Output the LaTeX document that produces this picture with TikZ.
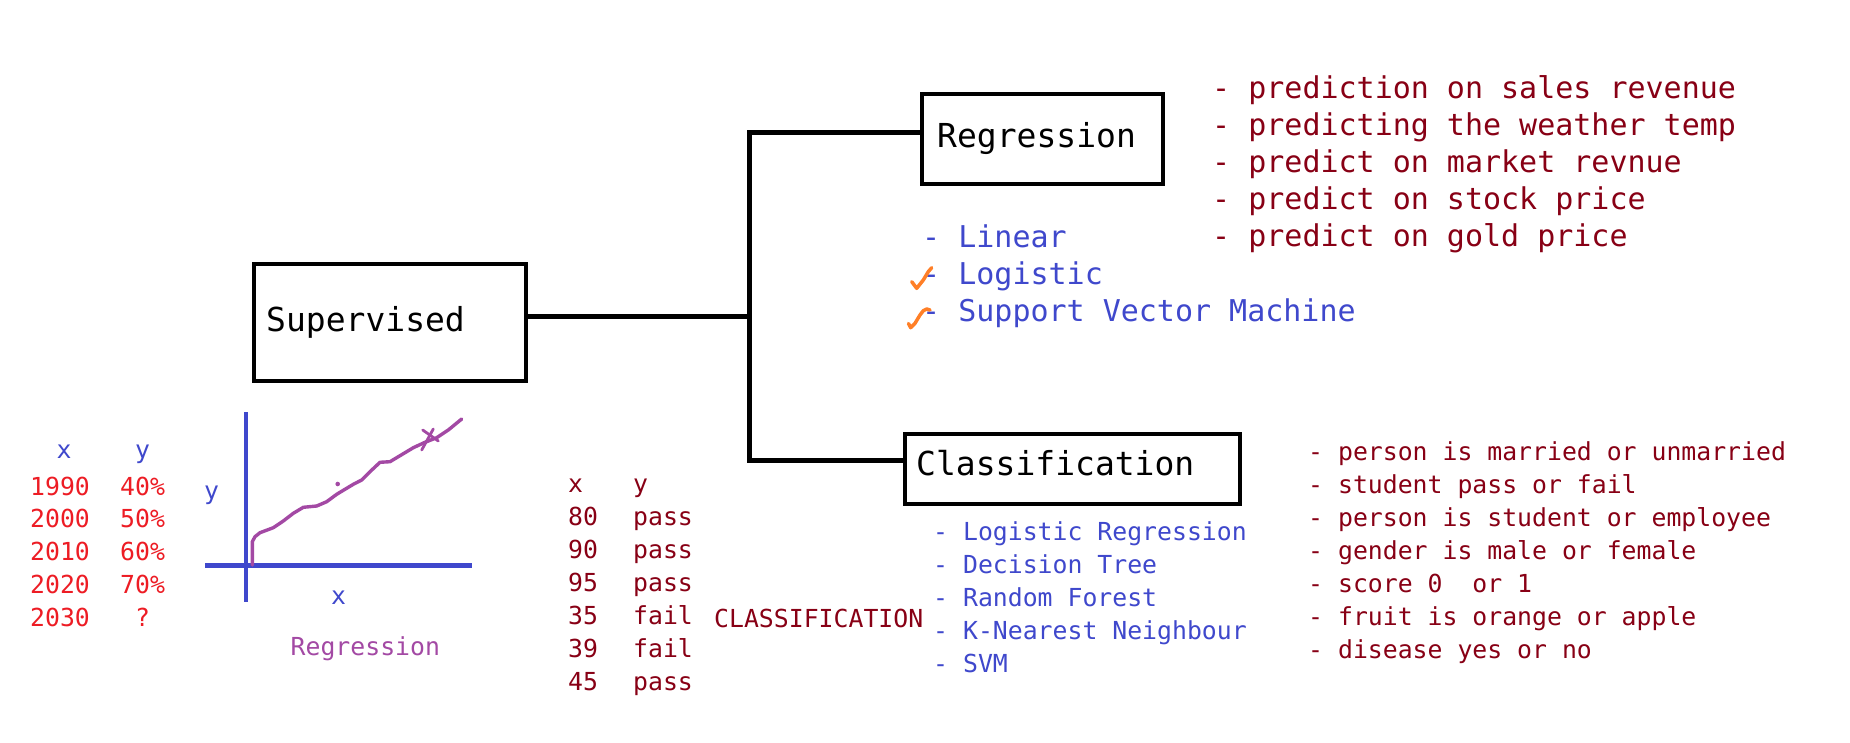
\documentclass[tikz,border=0pt]{standalone}
\usepackage{fontspec}
\newfontfamily\monofam{DejaVu Sans Mono}
\definecolor{pblue}{RGB}{63,72,204}
\definecolor{pred}{RGB}{237,28,36}
\definecolor{pdred}{RGB}{136,0,21}
\definecolor{ppurple}{RGB}{163,73,164}
\definecolor{porange}{RGB}{255,127,39}
\begin{document}
\begin{tikzpicture}[x=1pt,y=-1pt,
  box/.style={draw=black,line width=4.5pt,inner sep=0pt},
  conn/.style={draw=black,line width=5pt},
  tl/.style={font=\monofam\fontsize{33}{40}\selectfont,inner sep=0pt,anchor=base west},
  tm/.style={font=\monofam\fontsize{30}{37}\selectfont,inner sep=0pt,anchor=base west},
  ts/.style={font=\monofam\fontsize{24.8}{33}\selectfont,inner sep=0pt,anchor=base west},
  axisline/.style={draw=pblue,line width=4.5pt},
  pen/.style={draw=ppurple,line width=3.4pt,line cap=round,line join=round},
  tickmark/.style={draw=porange,line width=3.5pt,line cap=round,line join=round}]
\useasboundingbox[fill=white] (0,0) rectangle (1850,743);

% boxes
\node[box,minimum width=272pt,minimum height=117pt] (sup) at (390,322.5) {};
\node[box,minimum width=241pt,minimum height=90pt] (reg) at (1042.5,139) {};
\node[box,minimum width=335pt,minimum height=70pt] (cls) at (1072.5,469) {};
\node[tl] (supT) at (266,331) {Supervised};
\node[tl] (regT) at (937,148) {Regression};
\node[tl] (clsT) at (916,475) {Classification};

% connectors
\coordinate (J) at (749.5,317);
\coordinate (T) at (749.5,133);
\coordinate (B) at (749.5,460);
\draw[conn] (sup.east |- J) -- (J);
\draw[conn] (reg.west |- T) -- (T) -- (B) -- (cls.west |- B);

% regression examples
\foreach \t [count=\i from 0] in {prediction on sales revenue,predicting the weather temp,predict on market revnue,predict on stock price,predict on gold price}
  \node[tm,pdred] (rx\i) at (1212,{98.5+37*\i}) {- \t};
\foreach \t [count=\i from 0] in {Linear,Logistic,Support Vector Machine}
  \node[tm,pblue] (ra\i) at (922,{247.5+37*\i}) {- \t};
\draw[tickmark] (911.7,281.7) -- (916.7,288.3) -- (923.3,280) -- (928.3,271.7) -- (931.7,267.7);
\draw[tickmark] (908.5,323.5) -- (910.7,327.7) -- (915,323.3) -- (920,315) -- (923.3,310.7) -- (926.7,309) -- (930,310);

% classification algorithms and examples
\foreach \t [count=\i from 0] in {Logistic Regression,Decision Tree,Random Forest,K-Nearest Neighbour,SVM}
  \node[ts,pblue] (ca\i) at (933,{540+33.2*\i}) {- \t};
\foreach \t [count=\i from 0] in {person is married or unmarried,student pass or fail,person is student or employee,gender is male or female,score 0\ \ or 1,fruit is orange or apple,disease yes or no}
  \node[ts,pdred] (cx\i) at (1308,{460+33*\i}) {- \t};

% middle table
\node[ts,pdred] (mx) at (568,492) {x};
\node[ts,pdred] (my) at (633,492) {y};
\foreach \a/\b [count=\i from 0] in {80/pass,90/pass,95/pass,35/fail,39/fail,45/pass}{
  \node[ts,pdred] (ma\i) at (568,{525+33*\i}) {\a};
  \node[ts,pdred] (mb\i) at (633,{525+33*\i}) {\b};
}
\node[ts,pdred] (clsword) at (714,627) {CLASSIFICATION};

% left table
\node[ts,pblue] (lx) at (56.5,458) {x};
\node[ts,pblue] (ly) at (135,458) {y};
\foreach \a/\b [count=\i from 0] in {1990/40\%,2000/50\%,2010/60\%,2020/70\%}{
  \node[ts,pred] (la\i) at (30,{495+32.8*\i}) {\a};
  \node[ts,pred] (lb\i) at (120,{495+32.8*\i}) {\b};
}
\node[ts,pred] (la4) at (30,626) {2030};
\node[ts,pred] (lb4) at (135,626) {?};

% regression graph
\draw[axisline] (246,412) -- (246,602);
\draw[axisline] (205,565.3) -- (472,565.3);
\node[ts,pblue] (gy) at (204,499) {y};
\node[ts,pblue] (gx) at (331,604) {x};
\node[ts,ppurple] (gr) at (290.5,655) {Regression};
\draw[pen] (252.3,565) -- (252.3,541.7) -- (255,536.7) -- (260,532.7) -- (273.3,527.7) -- (283.3,521) -- (293.3,513.3) -- (303.3,507.3) -- (316.7,506) -- (326.7,501.7) -- (336.7,494.3) -- (353.3,484.3) -- (361.7,480) -- (370,471.7) -- (380,462.3) -- (390,461.7) -- (400,455.7) -- (413.3,447.7) -- (425,442.3) -- (436.7,437.7) -- (448.3,430) -- (461.7,419);
\fill[ppurple] (337.7,484) circle (2.3pt);
\draw[pen,line width=2.8pt] (422.7,430) -- (438.3,441);
\draw[pen,line width=2.8pt] (433.3,429) -- (421.7,450);
\end{tikzpicture}
\end{document}
